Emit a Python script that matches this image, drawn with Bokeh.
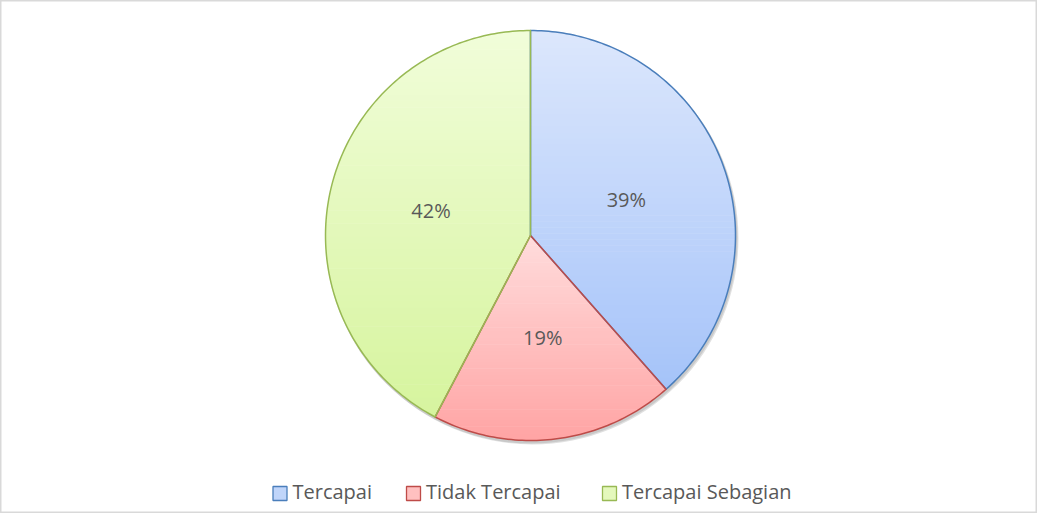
import math
import numpy as np
from bokeh.plotting import figure
from bokeh.models import Range1d
from bokeh.core.properties import value
from bokeh.embed import file_html
from bokeh.resources import INLINE

# ---- data ----
categories = ["Tercapai", "Tidak Tercapai", "Tercapai Sebagian"]
shares = [38.5, 19.2, 42.3]
labels = ["39%", "19%", "42%"]
top_colors = ["#dce7fc", "#ffdcdc", "#f1fdd9"]
bottom_colors = ["#a5c3f9", "#ffa4a4", "#d6f49e"]
line_colors = ["#4a7ebb", "#be4b48", "#98b954"]

W, H = 1037, 513
p = figure(width=W, height=H, output_backend="svg", toolbar_location=None,
           x_range=Range1d(0, W), y_range=Range1d(0, H), min_border=0)
p.axis.visible = False
p.grid.visible = False
p.outline_line_color = "#d9d9d9"
p.outline_line_width = 2
p.background_fill_color = "white"

cx, cy, R = 530, 278, 205

def hex2rgb(h):
    h = h.lstrip("#")
    return tuple(int(h[i:i + 2], 16) for i in (0, 2, 4))

def mix(a, b, t):
    A, B = hex2rgb(a), hex2rgb(b)
    return "#%02x%02x%02x" % tuple(int(round(A[i] + (B[i] - A[i]) * t)) for i in range(3))

def clip(poly, yv, keep_above):
    out = []
    n = len(poly)
    for i in range(n):
        P, Q = poly[i], poly[(i + 1) % n]
        pin = (P[1] >= yv) if keep_above else (P[1] <= yv)
        qin = (Q[1] >= yv) if keep_above else (Q[1] <= yv)
        if pin:
            out.append(P)
        if pin != qin:
            t = (yv - P[1]) / (Q[1] - P[1])
            out.append((P[0] + t * (Q[0] - P[0]), yv))
    return out

# shadow
p.circle(x=[cx + 2], y=[cy - 3], radius=R + 1, fill_color="#000000",
         fill_alpha=0.12, line_color=None)
p.circle(x=[cx + 1], y=[cy - 2], radius=R + 1, fill_color="#000000",
         fill_alpha=0.1, line_color=None)
p.circle(x=[cx], y=[cy], radius=R, fill_color="white", line_color=None)

total = sum(shares)
start = 0.0  # clockwise degrees from top
wedges = []
for i, s in enumerate(shares):
    span = s / total * 360.0
    a0, a1 = start, start + span
    angs = np.linspace(a0, a1, max(8, int(span)))
    poly = [(cx, cy)] + [(cx + R * math.sin(math.radians(a)), cy + R * math.cos(math.radians(a))) for a in angs]
    ys = [q[1] for q in poly]
    ymin, ymax = min(ys), max(ys)
    nb = 60
    bx, by, bc = [], [], []
    for k in range(nb):
        y0 = ymin + (ymax - ymin) * k / nb
        y1 = ymin + (ymax - ymin) * (k + 1) / nb + 0.6
        pc = clip(clip(poly, y0, True), y1, False)
        if len(pc) >= 3:
            bx.append([q[0] for q in pc])
            by.append([q[1] for q in pc])
            t = 1 - ((y0 + y1) / 2 - ymin) / (ymax - ymin)
            bc.append(mix(top_colors[i], bottom_colors[i], t))
    p.patches(xs=bx, ys=by, fill_color=bc, line_color=None)
    wedges.append((poly, a0, a1))
    start = a1

for i, (poly, a0, a1) in enumerate(wedges):
    p.patch(x=[q[0] for q in poly], y=[q[1] for q in poly], fill_color=None,
            line_color=line_colors[i], line_width=1.5, line_join="round")
    mid = math.radians((a0 + a1) / 2)
    lr = 0.5 * R
    p.text(x=[cx + lr * math.sin(mid)], y=[cy + lr * math.cos(mid)], text=[labels[i]],
           text_font=value("Open Sans"), text_font_size="20px", text_color="#595959",
           text_align="center", text_baseline="middle")

# legend
leg_sq_x = [279.5, 413, 609]
leg_y = 20
for i, c in enumerate(categories):
    p.rect(x=[leg_sq_x[i]], y=[leg_y], width=14, height=14,
           fill_color=mix(top_colors[i], bottom_colors[i], 0.5),
           line_color=line_colors[i], line_width=1.3)
    p.text(x=[leg_sq_x[i] + 12.5], y=[leg_y + 2], text=[c], text_font=value("Open Sans"),
           text_font_size="20px", text_color="#595959", text_align="left",
           text_baseline="middle")

open("out.html", "w").write(file_html(p, INLINE))
